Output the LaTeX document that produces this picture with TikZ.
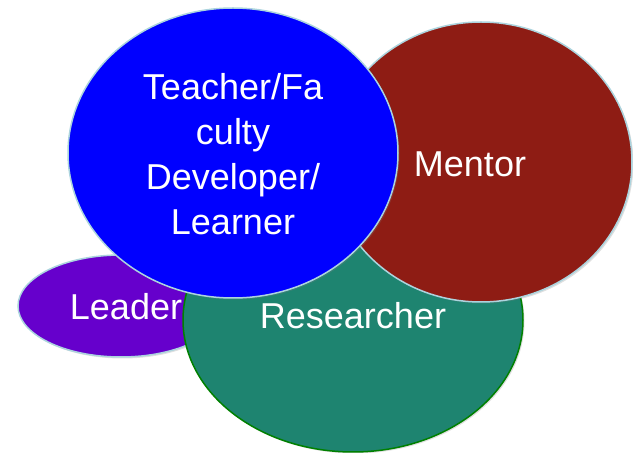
\documentclass[tikz,border=0pt]{standalone}
\usepackage{fontspec}
\setmainfont{Liberation Sans}
\usetikzlibrary{shapes.geometric,shadows}
\definecolor{leaderc}{RGB}{102,0,204}
\definecolor{researchc}{RGB}{30,132,112}
\definecolor{mentorc}{RGB}{142,28,20}
\definecolor{teachc}{RGB}{0,0,255}
\definecolor{rimc}{RGB}{172,212,222}
\definecolor{greenrim}{RGB}{0,128,0}
\tikzset{
  blob/.style={ellipse, inner sep=0pt, line width=1.5pt,
    drop shadow={opacity=0.25, shadow xshift=1.5pt, shadow yshift=-1.5pt}},
  lbl/.style={text=white, font=\fontsize{36}{45}\selectfont, inner sep=0pt}
}
\begin{document}
\begin{tikzpicture}[x=1pt,y=1pt]
\useasboundingbox (0,0) rectangle (633,453);
\node[blob, fill=leaderc, draw=rimc, minimum width=206pt, minimum height=102pt] (leader) at (121,147) {};
\node[lbl, anchor=base] (leadert) at (126,133) {Leader};
\node[blob, fill=researchc, draw=greenrim, minimum width=340pt, minimum height=264pt] (research) at (353,133) {};
\node[lbl, anchor=base] (researcht) at (353,124) {Researcher};
\node[blob, fill=mentorc, draw=rimc, minimum width=302pt, minimum height=280pt] (mentor) at (481,291) {};
\node[lbl, anchor=base] (mentort) at (470,276) {Mentor};
\node[blob, fill=teachc, draw=rimc, minimum width=330pt, minimum height=290pt] (teach) at (233,300) {};
\node[lbl, align=center] (teacht) at (233,298.5) {Teacher/Fa\\culty\\Developer/\\Learner};
\end{tikzpicture}
\end{document}
